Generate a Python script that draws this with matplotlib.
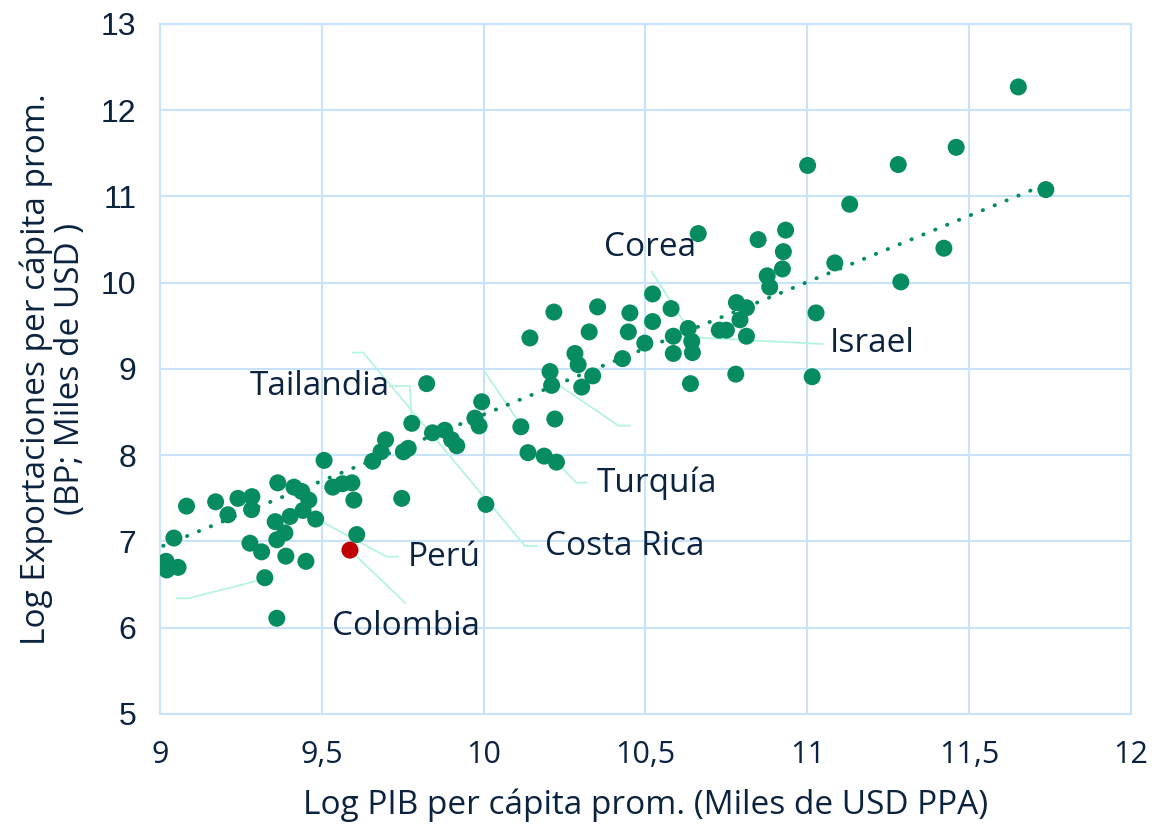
import matplotlib
matplotlib.use("Agg")
import matplotlib.pyplot as plt
import numpy as np

# log GDP per capita (x) and log exports per capita (y)
pib = [9.019, 9.021, 9.056, 9.043, 9.082, 9.172, 9.210, 9.241, 9.284, 9.283,
       9.278, 9.314, 9.324, 9.364, 9.356, 9.361, 9.386, 9.389, 9.361, 9.402,
       9.414, 9.438, 9.460, 9.442, 9.481, 9.451, 9.507, 9.534, 9.564, 9.593,
       9.599, 9.608, 9.747, 9.657, 9.683, 9.697, 9.752, 9.767, 9.778, 9.824,
       9.842, 9.880, 9.901, 9.917, 9.973, 9.986, 9.994, 10.007, 10.115, 10.137,
       10.187, 10.225, 10.220, 10.205, 10.210, 10.303, 10.143, 10.217, 10.282, 10.292,
       10.337, 10.326, 10.352, 10.429, 10.447, 10.452, 10.498, 10.522, 10.522, 10.579,
       10.586, 10.586, 10.632, 10.643, 10.645, 10.639, 10.663, 10.728, 10.750, 10.779,
       10.781, 10.792, 10.812, 10.812, 10.848, 10.876, 10.884, 10.923, 10.926, 10.933,
       11.001, 11.015, 11.027, 11.085, 11.131, 11.281, 11.289, 11.422, 11.460, 11.652,
       11.737]
expo = [6.77, 6.67, 6.70, 7.04, 7.41, 7.46, 7.31, 7.50, 7.52, 7.37,
        6.98, 6.88, 6.58, 7.68, 7.23, 7.02, 7.10, 6.83, 6.11, 7.29,
        7.63, 7.58, 7.48, 7.36, 7.26, 6.77, 7.94, 7.63, 7.67, 7.68,
        7.48, 7.08, 7.50, 7.93, 8.04, 8.18, 8.04, 8.08, 8.37, 8.83,
        8.26, 8.29, 8.18, 8.11, 8.43, 8.34, 8.62, 7.43, 8.33, 8.03,
        7.99, 7.92, 8.42, 8.97, 8.81, 8.79, 9.36, 9.66, 9.18, 9.05,
        8.92, 9.43, 9.72, 9.12, 9.43, 9.65, 9.30, 9.55, 9.87, 9.70,
        9.38, 9.18, 9.47, 9.32, 9.19, 8.83, 10.57, 9.45, 9.45, 8.94,
        9.77, 9.57, 9.71, 9.38, 10.50, 10.08, 9.95, 10.16, 10.36, 10.61,
        11.36, 8.91, 9.65, 10.23, 10.91, 11.37, 10.01, 10.40, 11.57, 12.27,
        11.08]

col_x = [9.587]
col_y = [6.90]

# trend line ends as drawn in the chart
trend_x = [9.01, 11.73]
trend_y = [6.95, 11.13]

# labels: text, position, alignment, leader line vertices
lab_text = ["Corea", "Israel", "Tailandia", "Turquía", "Costa Rica", "Perú", "Colombia"]
lab_pos = [(10.514, 10.41), (11.07, 9.29), (9.711, 8.80), (10.35, 7.67),
           (10.189, 6.94), (9.766, 6.82), (9.531, 6.01)]
lab_ha = ["center", "left", "right", "left", "left", "left", "left"]
leaders = [
    [(10.519, 10.128), (10.632, 9.472)],
    [(10.601, 9.375), (11.047, 9.290)],
    [(9.711, 8.803), (9.772, 8.803), (9.778, 8.397)],
    [(10.225, 7.918), (10.287, 7.682), (10.320, 7.682)],
    [(9.597, 9.19), (9.628, 9.19), (10.128, 6.948), (10.164, 6.948)],
    [(9.438, 7.357), (9.700, 6.824), (9.736, 6.824)],
    [(9.592, 6.882), (9.757, 6.29)],
    [(10.210, 8.872), (10.416, 8.343), (10.452, 8.343)],
    [(10.004, 8.965), (10.115, 8.351)],
    [(9.052, 6.341), (9.087, 6.341), (9.319, 6.562)],
]

green = "#078c61"
red = "#c00000"
navy = "#0c2340"
gridc = "#c9e3fb"
mint = "#b5f5df"
fs = 24

fig = plt.figure(figsize=(11.55, 8.24), dpi=100)
ax = fig.add_axes([0.1385, 0.1335, 0.8407, 0.8374])

ax.set_xlim(9, 12)
ax.set_ylim(5, 13)
ax.set_xticks(np.arange(9, 12.01, 0.5))
ax.set_yticks(np.arange(5, 13.01, 1))
ax.set_xticklabels(["9", "9,5", "10", "10,5", "11", "11,5", "12"],
                   fontfamily="Open Sans", fontsize=22, color=navy)
ax.set_yticklabels([str(v) for v in range(5, 14)],
                   fontfamily="Liberation Sans", fontsize=23, color=navy)
ax.tick_params(axis="x", length=0, pad=19)
ax.tick_params(axis="y", length=0, pad=17)
ax.grid(True, color=gridc, linewidth=1.5)
ax.set_axisbelow(True)
for s in ax.spines.values():
    s.set_color(gridc)
    s.set_linewidth(1.5)

for pts in leaders:
    xs, ys = zip(*pts)
    ax.plot(xs, ys, color=mint, linewidth=1.3, zorder=2)

ax.scatter(pib, expo, s=150, color=green, edgecolors="none", zorder=3)
ax.scatter(col_x, col_y, s=150, color=red, edgecolors="none", zorder=4)

ax.plot(trend_x, trend_y, color=green, linewidth=2.8, linestyle=(0, (0.1, 3.2)),
        dash_capstyle="round", zorder=3)

for t, (x, y), ha in zip(lab_text, lab_pos, lab_ha):
    ax.text(x, y, t, ha=ha, va="center", fontsize=fs, fontfamily="Open Sans",
            color=navy, zorder=5)

ax.set_xlabel("Log PIB per cápita prom. (Miles de USD PPA)", fontsize=fs,
              fontfamily="Open Sans", color=navy, labelpad=13)
ax.set_ylabel("Log Exportaciones per cápita prom.\n(BP; Miles de USD )", fontsize=fs,
              fontfamily="Open Sans", color=navy, labelpad=10, linespacing=1.05)

fig.savefig("out.png", dpi=100)
